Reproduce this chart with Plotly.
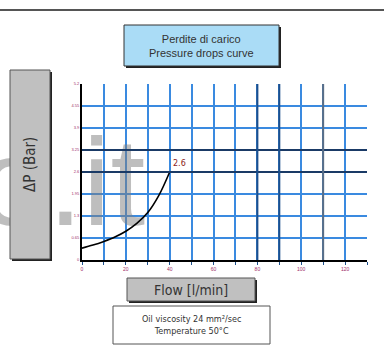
import plotly.graph_objects as go

# Curve values (flow in l/min, pressure drop in bar)
flow = [0, 5, 10, 15, 20, 25, 30, 35, 40]
dp = [0.35, 0.44, 0.55, 0.68, 0.85, 1.08, 1.40, 1.90, 2.60]

x_ticks = [0, 10, 20, 30, 40, 50, 60, 70, 80, 90, 100, 110, 120, 130]
x_labels = ["0", "", "20", "", "40", "", "60", "", "80", "", "100", "", "120", ""]
y_ticks = [0, 0.65, 1.3, 1.95, 2.6, 3.25, 3.9, 4.55, 5.2]
y_labels = ["0", "0.65", "1.3", "1.95", "2.6", "3.25", "3.9", "4.55", "5.2"]

end_label = "2.6"
title_text = "Perdite di carico<br>Pressure drops curve"
y_title = "ΔP (Bar)"
x_title = "Flow [l/min]"
info_text = "Oil viscosity 24 mm²/sec<br>Temperature 50°C"

# plot area in pixels
L, R, T, B = 82, 367, 84, 260
W, H = 384, 348


def px(x):
    return (x - L) / (R - L)


def py(y):
    return (B - y) / (B - T)


def box(x0, y0, x1, y1, fill, line="#333333", shadow=True, width=1):
    out = []
    if shadow:
        out.append(dict(type="rect", xref="paper", yref="paper", layer="above",
                        x0=px(x0 + 2), x1=px(x1 + 2), y0=py(y0 + 2), y1=py(y1 + 2),
                        fillcolor="#222222", line=dict(width=0)))
    out.append(dict(type="rect", xref="paper", yref="paper", layer="above",
                    x0=px(x0), x1=px(x1), y0=py(y0), y1=py(y1),
                    fillcolor=fill, line=dict(color=line, width=width)))
    return out


fig = go.Figure()

# watermark behind the grid
wm_font = dict(size=125, color="rgba(125,125,125,0.5)", family="Liberation Sans")
fig.add_trace(go.Scatter(x=[0.3], y=[1.95], mode="text", text=["it"], textposition="middle right",
                         textfont=wm_font, cliponaxis=False, hoverinfo="skip", showlegend=False))
fig.add_trace(go.Scatter(x=[0.3], y=[1.95], mode="text", text=["o."], textposition="middle left",
                         textfont=wm_font, cliponaxis=False, hoverinfo="skip", showlegend=False))

fig.add_trace(go.Scatter(x=flow, y=dp, mode="lines", line=dict(color="black", width=1.6, shape="spline"),
                         hoverinfo="skip", showlegend=False))

shapes = []
# top rule
shapes.append(dict(type="line", xref="paper", yref="paper", x0=px(0), x1=px(384), y0=py(10), y1=py(10),
                   line=dict(color="#555555", width=2)))
# darker grid lines
for yv in [y_ticks[4], y_ticks[5]]:
    shapes.append(dict(type="line", xref="paper", yref="y", x0=0, x1=1, y0=yv, y1=yv,
                       line=dict(color="#1a3a66", width=2)))
for xv in [x_ticks[8], x_ticks[9]]:
    shapes.append(dict(type="line", xref="x", yref="paper", x0=xv, x1=xv, y0=0, y1=1,
                       line=dict(color="#1c4f8c", width=2)))
shapes.append(dict(type="line", xref="x", yref="paper", x0=x_ticks[11], x1=x_ticks[11], y0=0, y1=1,
                   line=dict(color="#5a6e86", width=2)))
shapes += box(124, 25, 279, 66, "#aadcf6")
shapes += box(10, 70, 50, 259, "#c0c0c0", line="#555555")
shapes += box(127, 278, 255, 301, "#c0c0c0", line="#555555")
shapes += box(113, 306, 270, 344, "white", line="#555555", shadow=False)

mid = dict(xanchor="center", yanchor="middle", showarrow=False, xref="paper", yref="paper")
annotations = [
    dict(text=title_text, x=px(201.5), y=py(45.5), align="center",
         font=dict(size=11, color="#333333", family="Liberation Sans"), **mid),
    dict(text=y_title, x=px(30), y=py(165), textangle=-90,
         font=dict(size=15, color="#333333", family="DejaVu Sans Condensed, DejaVu Sans"), **mid),
    dict(text=x_title, x=px(191), y=py(289.5),
         font=dict(size=14, color="#333333", family="DejaVu Sans Condensed, DejaVu Sans"), **mid),
    dict(text=info_text, x=px(191.5), y=py(325), align="center",
         font=dict(size=9, color="#333333", family="DejaVu Sans Condensed, DejaVu Sans"), **mid),
    dict(text=end_label, x=flow[-1], y=dp[-1], xanchor="left", yanchor="bottom", showarrow=False,
         xshift=1, yshift=2, font=dict(size=8, color="#8b1a1a", family="DejaVu Sans")),
]

fig.update_layout(
    width=W, height=H,
    margin=dict(l=L, r=W - R, t=T, b=H - B),
    paper_bgcolor="white", plot_bgcolor="white",
    shapes=shapes, annotations=annotations,
    font=dict(family="Liberation Sans"),
)
fig.update_xaxes(range=[0, 130], tickvals=x_ticks, ticktext=x_labels,
                 showgrid=True, gridcolor="#3a8ae0", gridwidth=2,
                 showline=True, linecolor="black", linewidth=2,
                 ticks="outside", ticklen=3, tickcolor="#1c4f8c", layer="above traces",
                 tickfont=dict(size=5, color="#a0306a"), zeroline=False, fixedrange=True)
fig.update_yaxes(range=[0, 5.2], tickvals=y_ticks, ticktext=y_labels,
                 showgrid=True, gridcolor="#3a8ae0", gridwidth=2,
                 showline=True, linecolor="black", linewidth=2, mirror=False, layer="above traces",
                 tickfont=dict(size=4, color="#a0306a"), zeroline=False, fixedrange=True)

fig.write_html("out.html", config={"displayModeBar": False},
               post_script="document.body.style.margin='0';")
